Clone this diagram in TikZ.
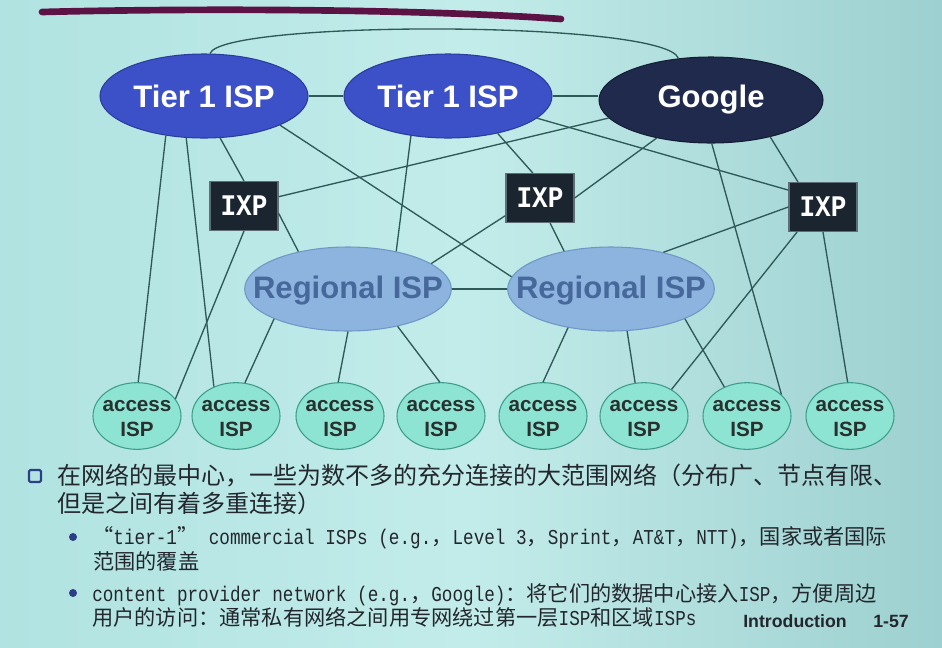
\documentclass[tikz,border=0pt]{standalone}
\usepackage{fontspec}
\setmainfont{Liberation Sans}
\newfontfamily\cjk{Noto Sans CJK SC}
\newfontfamily\lmono{Liberation Mono}[FakeStretch=0.833]
\newfontfamily\ixpf{Liberation Mono}
\usetikzlibrary{shapes.geometric}
\definecolor{bgL}{HTML}{B0E3E1}
\definecolor{bgM}{HTML}{C2ECEA}
\definecolor{bgR}{HTML}{9DD0D0}
\definecolor{tierc}{HTML}{3C50C8}
\definecolor{tierb}{HTML}{2B3C9E}
\definecolor{googc}{HTML}{1F2A4C}
\definecolor{googb}{HTML}{151D36}
\definecolor{regc}{HTML}{8DB3DF}
\definecolor{regb}{HTML}{6F98C6}
\definecolor{regt}{HTML}{46689A}
\definecolor{accc}{HTML}{8EE4D2}
\definecolor{accb}{HTML}{3E9C8A}
\definecolor{acct}{HTML}{283030}
\definecolor{ixpc}{HTML}{1B2530}
\definecolor{ixpb}{HTML}{5E6E76}
\definecolor{linkc}{HTML}{2F5858}
\definecolor{penc}{HTML}{5C1244}
\definecolor{txtc}{HTML}{23272D}
\definecolor{bulc}{HTML}{2B3E86}
\tikzset{
  bigtxt/.style={font=\fontsize{23.3}{28}\selectfont\bfseries},
  tier/.style={ellipse, inner sep=0pt, minimum width=156pt, minimum height=63pt, fill=tierc, draw=tierb, line width=0.8pt,
    label={[bigtxt, text=white]center:#1}},
  goog/.style={ellipse, inner sep=0pt, minimum width=168pt, minimum height=64.5pt, fill=googc, draw=googb, line width=0.8pt,
    label={[bigtxt, text=white]center:#1}},
  reg/.style={ellipse, inner sep=0pt, minimum width=155pt, minimum height=63pt, fill=regc, draw=regb, line width=0.8pt,
    label={[bigtxt, text=regt, yshift=-1.5pt]center:#1}},
  acc/.style={ellipse, inner sep=0pt, minimum width=66pt, minimum height=50pt, fill=accc, draw=accb, line width=0.8pt,
    label={[font=\fontsize{15.5}{18.5}\selectfont\bfseries, text=acct, align=center, yshift=-2pt]center:access\\ISP}},
  ixp/.style={rectangle, inner sep=0pt, minimum width=51pt, minimum height=36.5pt, fill=ixpc, draw=ixpb, line width=1pt,
    text=white, font=\ixpf\bfseries\fontsize{19.5}{22}\selectfont},
  link/.style={draw=linkc, line width=1pt},
  txtA/.style={anchor=base west, inner sep=0pt, text=txtc, font=\cjk\fontsize{18}{20}\selectfont},
  txtB/.style={anchor=base west, inner sep=0pt, text=txtc, font=\cjk\fontsize{15.9}{18}\selectfont},
  foot/.style={anchor=base west, inner sep=0pt, text=txtc, font=\fontsize{13.3}{16}\selectfont\bfseries}
}
\begin{document}
\begin{tikzpicture}[x=0.75pt, y=-0.75pt]
\shade[left color=bgL, right color=bgR, middle color=bgM] (0,0) rectangle (942,647);
\useasboundingbox (0,0) rectangle (942,647);

% pen annotation
\draw[penc, line width=5pt, line cap=round] (42,12) .. controls (200,8) and (420,9) .. (561,19);

% nodes
\node[tier=Tier 1 ISP] (T1a) at (204,96) {};
\node[tier=Tier 1 ISP] (T1b) at (448,96) {};
\node[goog=Google] (G) at (711,100) {};
\node[ixp] (I1) at (244,206) {\scalebox{1}[1.15]{IXP}};
\node[ixp] (I2) at (540,198) {\scalebox{1}[1.15]{IXP}};
\node[ixp] (I3) at (823,207) {\scalebox{1}[1.15]{IXP}};
\node[reg=Regional ISP] (R1) at (348,289) {};
\node[reg=Regional ISP] (R2) at (611,289) {};
\foreach \n/\x in {1/137,2/236,3/340,4/441,5/543,6/644,7/747,8/850}
  \node[acc] (A\n) at (\x,416) {};

% links
\draw[link] (T1a) -- (T1b);
\draw[link] (T1b.east) -- (T1b.east -| G.west);
\draw[link] (T1a.82) .. controls (222,20) and (665,20) .. (G.128);
\draw[link] (T1a.226) -- (A1.88);
\draw[link] (T1a.247) -- (A2.127);
\draw[link] (T1a.291) -- (I1.north);
\draw[link] (T1a.339) -- (R2.173);
\draw[link] (I1.15) -- (G.190);
\draw[link] (I1.348) -- (R1.143);
\draw[link] (I1.south) -- (A1.24);
\draw[link] (T1b.227) -- (R1.38);
\draw[link] (T1b.323) -- (I2.106);
\draw[link] (T1b.346) -- (I3.154);
\draw[link] (G.215) -- (I2.east);
\draw[link] (G.271) -- (A7.32);
\draw[link] (G.328) -- (I3.135);
\draw[link] (I2.207) -- (R1.17);
\draw[link] (I2.292) -- (R2.141);
\draw[link] (I3.west) -- (R2.35);
\draw[link] (I3.224) -- (A6.44);
\draw[link] (I3.south) -- (A8.94);
\draw[link] (R1) -- (R2);
\draw[link] (R1.202) -- (A2.75);
\draw[link] (R1.270) -- (A3.93);
\draw[link] (R1.323) -- (A4.92);
\draw[link] (R2.222) -- (A5.90);
\draw[link] (R2.291) -- (A6.105);
\draw[link] (R2.338) -- (A7.128);

% bullets
\node[draw=bulc, line width=1.6pt, minimum size=9pt, inner sep=0pt, rounded corners=1pt] (B0) at (35,476) {};
\node[circle, fill=bulc, minimum size=6pt, inner sep=0pt] (B1) at (73,537) {};
\node[circle, fill=bulc, minimum size=6pt, inner sep=0pt] (B2) at (73,593) {};

% text
\node[txtA] (L1) at (57,484) {在网络的最中心，一些为数不多的充分连接的大范围网络（分布广、节点有限、};
\node[txtA] (L2) at (57,512) {但是之间有着多重连接）};
\node[txtB] (L3) at (92,544) {“{\lmono tier-1}”{\lmono\ commercial ISPs (e.g.}，{\lmono Level 3}，{\lmono Sprint}，{\lmono AT\&T}，{\lmono NTT)}，国家或者国际};
\node[txtB] (L4) at (93,569) {范围的覆盖};
\node[txtB] (L5) at (92,601) {{\lmono content provider network (e.g.}，{\lmono Google)}：将它们的数据中心接入{\lmono ISP}，方便周边};
\node[txtB] (L6) at (92,625) {用户的访问：通常私有网络之间用专网绕过第一层{\lmono ISP}和区域{\lmono ISPs}};
\node[foot] (F1) at (743,627) {Introduction};
\node[foot] (F2) at (873,627) {1-57};
\end{tikzpicture}
\end{document}
